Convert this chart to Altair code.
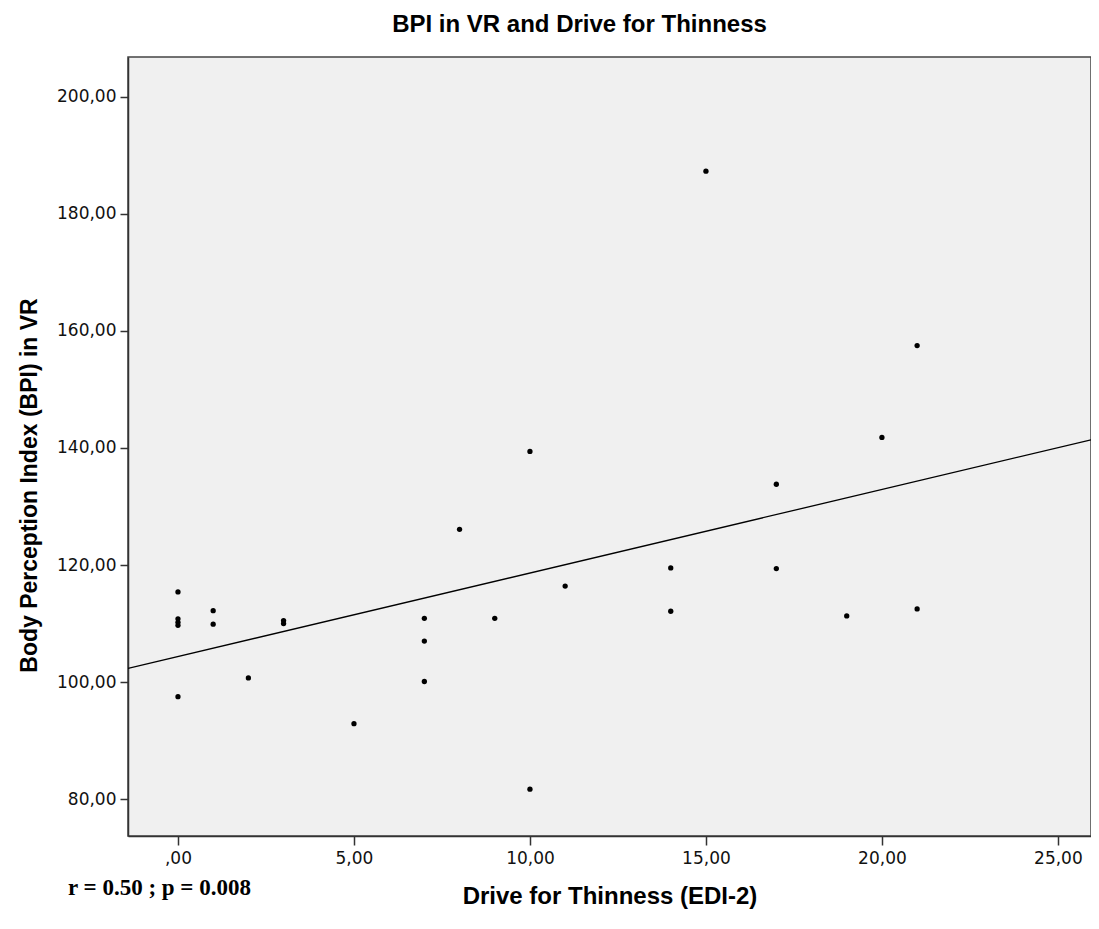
import altair as alt
import pandas as pd

# ---- data ----
drive_for_thinness = [0, 0, 0, 0, 0, 1, 1, 2, 3, 3, 5, 7, 7, 7, 8, 9, 10, 10, 11,
                      14, 14, 15, 17, 17, 19, 20, 21, 21]
bpi_vr = [115.4, 110.8, 110.2, 109.7, 97.5, 112.2, 109.9, 100.7, 110.5, 110.0,
          92.9, 110.9, 107.0, 100.1, 126.1, 110.9, 139.4, 81.7, 116.4,
          119.5, 112.1, 187.3, 133.8, 119.4, 111.3, 141.8, 157.5, 112.5]
x_ticks = [0, 5, 10, 15, 20, 25]
y_ticks = [80, 100, 120, 140, 160, 180, 200]
x_domain = [-1.42, 25.94]
y_domain = [73.7, 206.8]
title_text = "BPI in VR and Drive for Thinness"
x_title = "Drive for Thinness (EDI-2)"
y_title = "Body Perception Index (BPI) in VR"
stat_note = ["r = 0.50 ; p = 0.008"]

df = pd.DataFrame({"x": drive_for_thinness, "y": bpi_vr})
note_df = pd.DataFrame({"t": stat_note})

W, H = 963, 779
label_expr = "datum.value == 0 ? ',00' : replace(format(datum.value, '.2f'), '.', ',')"

xs = alt.Scale(domain=x_domain, nice=False, zero=False)
ys = alt.Scale(domain=y_domain, nice=False, zero=False)

x_enc = alt.X("x:Q", scale=xs, title=x_title,
              axis=alt.Axis(values=x_ticks, labelExpr=label_expr, grid=False,
                            tickSize=9, labelPadding=5, titleY=67,
                            titleBaseline="alphabetic", titleFontSize=24))
y_enc = alt.Y("y:Q", scale=ys, title=y_title,
              axis=alt.Axis(values=y_ticks, labelExpr=label_expr, grid=False,
                            tickSize=8, labelPadding=4, titleX=-92,
                            titleY=428, titleAngle=-90, titleFontSize=23,
                            titleBaseline="alphabetic", titleAlign="center"))

points = alt.Chart(df).mark_circle(size=28, color="black", opacity=1).encode(
    x=x_enc, y=y_enc)

fit = alt.Chart(df).transform_regression(
    "x", "y", extent=x_domain
).mark_line(color="black", strokeWidth=1.3, clip=True).encode(
    x=alt.X("x:Q", scale=xs), y=alt.Y("y:Q", scale=ys))

note = alt.Chart(note_df).mark_text(
    align="left", baseline="middle", font="Liberation Serif",
    fontWeight="bold", fontSize=23, color="black"
).encode(text="t:N", x=alt.value(-60), y=alt.value(831))

chart = alt.layer(fit, points, note).properties(
    width=W, height=H,
    title=alt.TitleParams(title_text, fontSize=24, font="Liberation Sans",
                          fontWeight="bold", anchor="middle", dx=-30,
                          offset=20, color="black"),
    autosize=alt.AutoSizeParams(type="none"),
    padding={"left": 120, "top": 49, "right": 0, "bottom": 85},
).configure_view(
    fill="#f0f0f0", stroke="#444", strokeWidth=1.5
).configure_axis(
    domainColor="#333", tickColor="#333", domainWidth=1.5, tickWidth=1.5,
    labelFont="DejaVu Sans", labelFontSize=17, labelColor="#111",
    titleFont="Liberation Sans", titleFontWeight="bold",
    titleColor="black"
)

chart.save("out.html", embed_options={"renderer": "svg", "actions": False})
